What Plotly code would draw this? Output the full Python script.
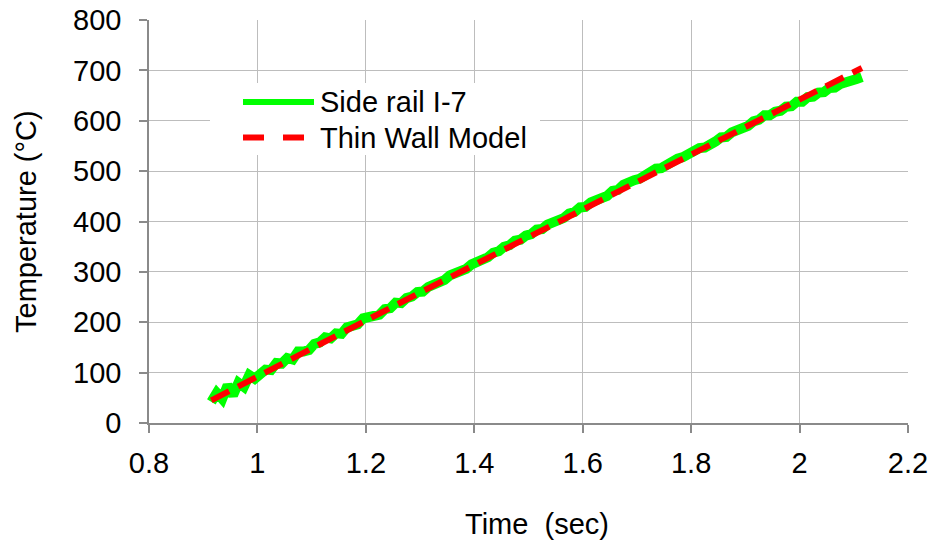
import plotly.graph_objects as go

# ---- data ----
time_rail = [round(0.915 + 0.01 * i, 3) for i in range(121)]  # sample times (sec)
temp_rail = [42, 60, 48, 75, 55, 80, 72, 95, 88, 98,
             106, 105, 119, 118, 129, 126, 142, 142, 145, 157,
             160, 170, 168, 178, 177, 190, 194, 196, 208, 209,
             214, 215, 226, 228, 239, 238, 248, 251, 260, 261,
             270, 274, 283, 284, 293, 297, 305, 306, 315, 319,
             328, 329, 338, 341, 350, 353, 362, 364, 372, 375,
             384, 385, 394, 397, 404, 407, 416, 419, 428, 429,
             438, 441, 448, 451, 461, 463, 473, 475, 482, 485,
             493, 496, 505, 506, 514, 516, 525, 528, 535, 537,
             546, 547, 556, 559, 567, 568, 577, 580, 587, 590,
             599, 602, 611, 611, 618, 620, 628, 629, 638, 638,
             647, 648, 656, 657, 665, 666, 673, 675, 682, 683,
             687]
time_model = [0.915, 1.1, 1.3, 1.5, 1.7, 1.9, 2.115]
temp_model = [45, 149, 259, 369, 479, 589, 705]

series_names = ["Side rail I-7", "Thin Wall Model"]
x_ticks = [0.8, 1.0, 1.2, 1.4, 1.6, 1.8, 2.0, 2.2]
x_tick_labels = ["0.8", "1", "1.2", "1.4", "1.6", "1.8", "2", "2.2"]
y_ticks = [0, 100, 200, 300, 400, 500, 600, 700, 800]

FONT = "Arial, Liberation Sans, sans-serif"
FS = 29
GREEN = "#00ff00"
RED = "#ff0000"

W, H = 930, 544
# plot area in window pixels: left 149, right 908, top 20, bottom 423
L, R, T, B = 149, 908, 20, 423


def px(xp):
    return (xp - L) / (R - L)


def py(yp):
    return (B - yp) / (B - T)


fig = go.Figure()
fig.add_trace(go.Scatter(x=time_rail, y=temp_rail, mode="lines",
                         line=dict(color=GREEN, width=10), name=series_names[0],
                         showlegend=False))
fig.add_trace(go.Scatter(x=time_model, y=temp_model, mode="lines",
                         line=dict(color=RED, width=6, dash="20px,10px"),
                         name=series_names[1], showlegend=False))

shapes = [
    dict(type="rect", xref="paper", yref="paper", x0=px(210), x1=px(540),
         y0=py(155), y1=py(83), fillcolor="white", line=dict(width=0), layer="above"),
    dict(type="line", xref="paper", yref="paper", x0=px(243), x1=px(314),
         y0=py(102), y1=py(102), line=dict(color=GREEN, width=6), layer="above"),
    dict(type="line", xref="paper", yref="paper", x0=px(243), x1=px(314),
         y0=py(137.5), y1=py(137.5), line=dict(color=RED, width=6, dash="21px,19px"),
         layer="above"),
]
annotations = [
    dict(text=series_names[0], xref="paper", yref="paper", x=px(318), y=py(102),
         xanchor="left", yanchor="middle", showarrow=False,
         font=dict(family=FONT, size=FS, color="black")),
    dict(text=series_names[1], xref="paper", yref="paper", x=px(318), y=py(137.5),
         xanchor="left", yanchor="middle", showarrow=False,
         font=dict(family=FONT, size=FS, color="black")),
    dict(text="Time  (sec)", xref="paper", yref="paper", x=px(537), y=py(524),
         xanchor="center", yanchor="middle", showarrow=False,
         font=dict(family=FONT, size=FS, color="black")),
    dict(text="Temperature (°C)", xref="paper", yref="paper", x=px(26), y=py(222),
         xanchor="center", yanchor="middle", showarrow=False, textangle=-90,
         font=dict(family=FONT, size=FS, color="black")),
]

axis_common = dict(showgrid=True, gridcolor="#bdbdbd", gridwidth=1.3,
                   showline=True, linecolor="#8a8a8a", linewidth=1.5,
                   ticks="outside", ticklen=8, tickwidth=1.5, tickcolor="#8a8a8a",
                   zeroline=False, automargin=False,
                   tickfont=dict(family=FONT, size=FS, color="black"))

fig.update_layout(
    width=W, height=H,
    margin=dict(l=L, r=W - R, t=T, b=H - B, autoexpand=False),
    paper_bgcolor="white", plot_bgcolor="white",
    showlegend=False,
    xaxis=dict(range=[0.8, 2.2], tickvals=x_ticks, ticktext=x_tick_labels,
               ticklabelstandoff=5, **axis_common),
    yaxis=dict(range=[0, 800.2], tickvals=y_ticks, ticklabelstandoff=12, **axis_common),
    shapes=shapes, annotations=annotations,
)

fig.write_html(
    "out.html",
    config={"displayModeBar": False},
    post_script="document.body.style.margin='0';document.body.style.overflow='hidden';",
)
